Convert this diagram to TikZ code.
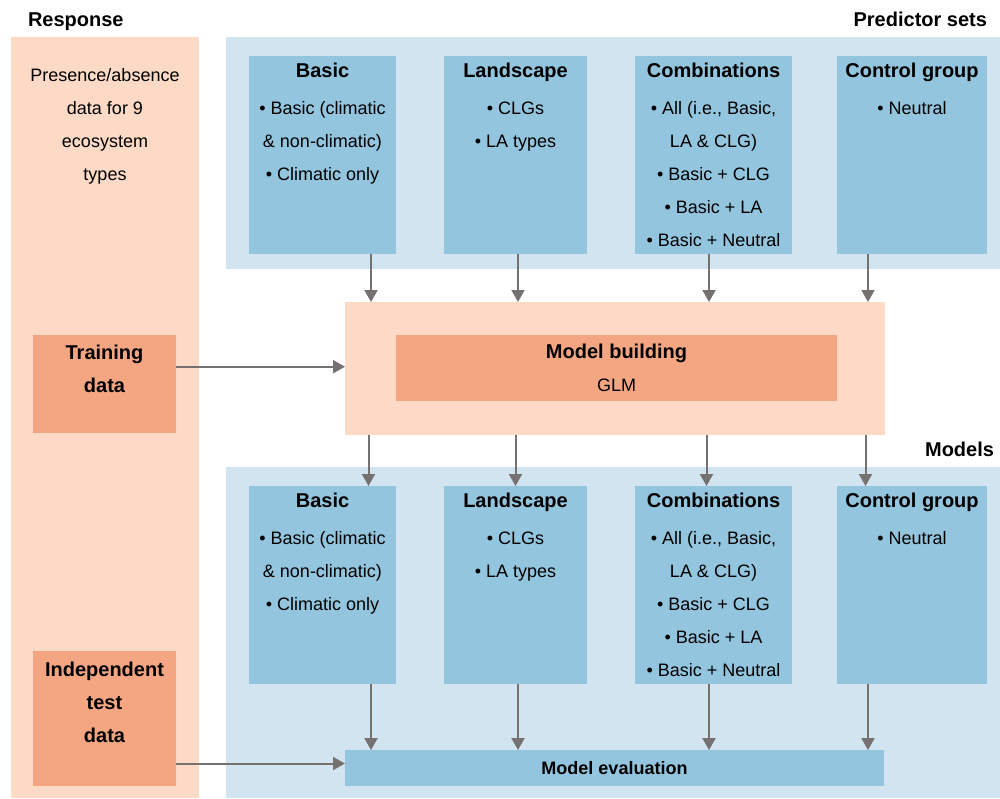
\documentclass[tikz,border=0pt]{standalone}
\usepackage{fontspec}
\setmainfont{Liberation Sans}
\usepackage{xcolor}
\usepackage{tikz}
\usetikzlibrary{arrows.meta}
\usetikzlibrary{positioning}

\definecolor{peach}{HTML}{FCDAC6}
\definecolor{salmon}{HTML}{F4A683}
\definecolor{paleblue}{HTML}{D2E4EF}
\definecolor{setblue}{HTML}{93C5DE}
\definecolor{arrowgrey}{HTML}{767171}

\begin{document}
\begin{tikzpicture}[x=0.5pt,y=-0.5pt,>={Triangle[length=6pt,width=6.5pt]},font=\fontsize{9}{16.5}\selectfont,every node/.style={outer sep=0pt}]
	\tikzstyle{setbox}=[fill=setblue, inner sep=0pt, minimum height=99pt, anchor=north west]
	\tikzstyle{databox}=[fill=salmon, inner sep=0pt, minimum width=71.5pt, anchor=north west]
	\tikzstyle{boxtext}=[align=center, inner sep=0pt, anchor=north]
	\tikzstyle{paneltitle}=[font=\fontsize{10}{16.5}\selectfont\bfseries, inner sep=0pt]
	\tikzstyle{flow}=[->, draw=arrowgrey, line width=1pt]
	\newcommand{\settitle}[1]{{\fontsize{10}{16.5}\selectfont\bfseries #1}\\[2pt]}
	\useasboundingbox (0,0) rectangle (1000,798);
	% panels
	\fill[peach] (11,37) rectangle (199,798);
	\fill[paleblue] (226,37) rectangle (1000,268.5);
	\fill[paleblue] (226,467) rectangle (1000,798);
	\node[paneltitle, anchor=base west] (resp) at (28,26.7) {Response};
	\node[paneltitle, anchor=base east] (predsets) at (987,26.7) {Predictor sets};
	\node[paneltitle, anchor=base east] (models) at (994,456.7) {Models};
	\node[boxtext] (resptext) at (105,68) {Presence/absence\\data for 9\\ecosystem\\types};

	% predictor sets
	\node[setbox, minimum width=73.5pt] (basicP) at (249,56) {};
	\node[setbox, minimum width=71.5pt] (landP) [right=24pt of basicP] {};
	\node[setbox, minimum width=78.5pt] (combP) [right=24pt of landP] {};
	\node[setbox, minimum width=75pt] (ctrlP) [right=22.5pt of combP] {};
	\node[boxtext] (basicPt) [below=3.5pt of basicP.north] {\settitle{Basic}\textbullet{} Basic (climatic\\\& non-climatic)\\\textbullet{} Climatic only};
	\node[boxtext] (landPt) [below=3.5pt of landP.north] {\settitle{Landscape}\textbullet{} CLGs\\\textbullet{} LA types};
	\node[boxtext] (combPt) [below=3.5pt of combP.north] {\settitle{Combinations}\textbullet{} All (i.e., Basic,\\LA \& CLG)\\\textbullet{} Basic + CLG\\\textbullet{} Basic + LA\\\textbullet{} Basic + Neutral};
	\node[boxtext] (ctrlPt) [below=3.5pt of ctrlP.north] {\settitle{Control group}\textbullet{} Neutral};

	% model building
	\node[fill=peach, inner sep=0pt, minimum width=270pt, minimum height=66.5pt, anchor=north west] (buildo) at (345,302) {};
	\node[fill=salmon, inner sep=0pt, minimum width=220.5pt, minimum height=33pt, anchor=north west, align=center] (build) at (396,335) {{\fontsize{10}{16.5}\selectfont\bfseries Model building}\\GLM};
	\node[databox, minimum height=49pt] (train) at (33,335) {};
	\node[boxtext, paneltitle] (traint) [below=5pt of train.north] {Training\\data};

	% models
	\node[setbox, minimum width=73.5pt] (basicM) [below=116pt of basicP] {};
	\node[setbox, minimum width=71.5pt] (landM) [below=116pt of landP] {};
	\node[setbox, minimum width=78.5pt] (combM) [below=116pt of combP] {};
	\node[setbox, minimum width=75pt] (ctrlM) [below=116pt of ctrlP] {};
	\node[boxtext] (basicMt) [below=3.5pt of basicM.north] {\settitle{Basic}\textbullet{} Basic (climatic\\\& non-climatic)\\\textbullet{} Climatic only};
	\node[boxtext] (landMt) [below=3.5pt of landM.north] {\settitle{Landscape}\textbullet{} CLGs\\\textbullet{} LA types};
	\node[boxtext] (combMt) [below=3.5pt of combM.north] {\settitle{Combinations}\textbullet{} All (i.e., Basic,\\LA \& CLG)\\\textbullet{} Basic + CLG\\\textbullet{} Basic + LA\\\textbullet{} Basic + Neutral};
	\node[boxtext] (ctrlMt) [below=3.5pt of ctrlM.north] {\settitle{Control group}\textbullet{} Neutral};

	% evaluation
	\node[fill=setblue, inner sep=0pt, minimum width=269.5pt, minimum height=18pt, anchor=north west, font=\fontsize{9}{16.5}\selectfont\bfseries] (evalb) at (345,750) {Model evaluation};
	\node[databox, minimum height=67.5pt] (test) at (33,651) {};
	\node[boxtext, paneltitle] (testt) [below=5.3pt of test.north] {Independent\\test\\data};

	% arrow columns
	\coordinate (c1) at (371,0);
	\coordinate (c2) at (518,0);
	\coordinate (c3) at (709,0);
	\coordinate (c4) at (868,0);
	\coordinate (trainrow) at (0,366.7);
	\coordinate (testrow) at (0,763.5);

	\path
		(basicP.south -| c1) edge[flow] (buildo.north -| c1)
		(landP.south -| c2) edge[flow] (buildo.north -| c2)
		(combP.south -| c3) edge[flow] (buildo.north -| c3)
		(ctrlP.south -| c4) edge[flow] (buildo.north -| c4)
		(train.east |- trainrow) edge[flow] (buildo.west |- trainrow)
		([xshift=-1.25pt]buildo.south -| c1) edge[flow] ([xshift=-1.25pt]basicM.north -| c1)
		([xshift=-1.25pt]buildo.south -| c2) edge[flow] ([xshift=-1.25pt]landM.north -| c2)
		([xshift=-1.25pt]buildo.south -| c3) edge[flow] ([xshift=-1.25pt]combM.north -| c3)
		([xshift=-1.25pt]buildo.south -| c4) edge[flow] ([xshift=-1.25pt]ctrlM.north -| c4)
		(basicM.south -| c1) edge[flow] (evalb.north -| c1)
		(landM.south -| c2) edge[flow] (evalb.north -| c2)
		(combM.south -| c3) edge[flow] (evalb.north -| c3)
		(ctrlM.south -| c4) edge[flow] (evalb.north -| c4)
		(test.east |- testrow) edge[flow] (evalb.west |- testrow);
\end{tikzpicture}
\end{document}
